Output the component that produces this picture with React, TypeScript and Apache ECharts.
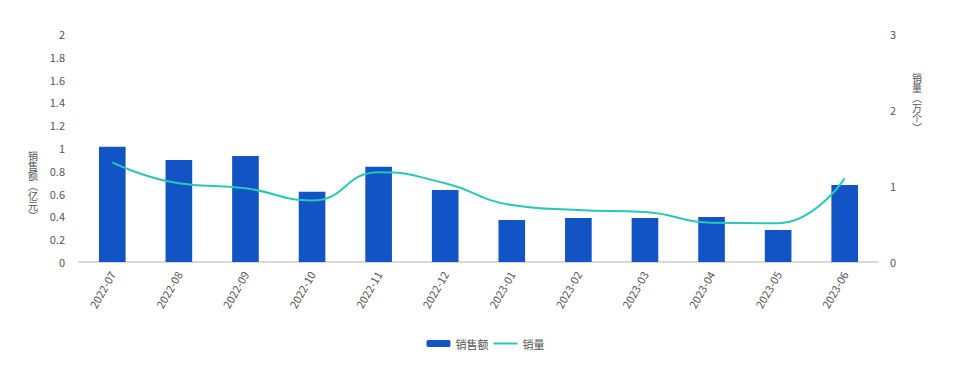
import React, { useEffect, useRef } from "react";
import * as echarts from "echarts";

const categories = ["2022-07", "2022-08", "2022-09", "2022-10", "2022-11", "2022-12", "2023-01", "2023-02", "2023-03", "2023-04", "2023-05", "2023-06"];
const salesAmount = [1.01, 0.895, 0.93, 0.617, 0.836, 0.632, 0.368, 0.386, 0.386, 0.395, 0.281, 0.675];
const salesVolume = [1.31, 1.035, 0.97, 0.81, 1.18, 1.035, 0.75, 0.684, 0.658, 0.517, 0.51, 1.1];
const leftName = "销\n售\n额\n︵\n亿\n元\n︶";
const rightName = "销\n量\n︵\n万\n个\n︶";

export default function App() {
  const ref = useRef<HTMLDivElement>(null);
  useEffect(() => {
    document.body.style.margin = "0";
    const chart = echarts.init(ref.current!, null, { renderer: "svg" });
    const font = "'Noto Sans CJK SC', sans-serif";
    const nameStyle = { fill: "#555", fontSize: 10, lineHeight: 10, fontFamily: font, align: "center", verticalAlign: "top" };
    chart.setOption({
      animation: false,
      textStyle: { fontFamily: font },
      legend: {
        data: ["销售额", { name: "销量", itemStyle: { opacity: 0 } }],
        bottom: 16,
        left: "center",
        itemWidth: 24,
        itemHeight: 7,
        itemGap: 4,
        textStyle: { color: "#555", fontSize: 11, fontFamily: font },
      },
      graphic: [
        { type: "text", x: 33, y: 150, style: { ...nameStyle, text: leftName } },
        { type: "text", x: 917, y: 72, style: { ...nameStyle, text: rightName } },
      ],
      grid: { left: 79, right: 93, top: 34, bottom: 108 },
      xAxis: {
        type: "category",
        data: categories,
        axisLine: { show: true, lineStyle: { color: "#d9d9d9", width: 2 } },
        axisTick: { show: false },
        axisLabel: { rotate: 60, interval: 0, color: "#555", fontSize: 11, margin: 10 },
      },
      yAxis: [
        {
          type: "value",
          min: 0,
          max: 2,
          interval: 0.2,
          position: "left",
          axisLine: { show: false },
          axisTick: { show: false },
          splitLine: { show: false },
          axisLabel: { color: "#555", fontSize: 11, margin: 14 },
        },
        {
          type: "value",
          min: 0,
          max: 3,
          interval: 1,
          position: "right",
          axisLine: { show: false },
          axisTick: { show: false },
          splitLine: { show: false },
          axisLabel: { color: "#555", fontSize: 11, margin: 12 },
        },
      ],
      series: [
        {
          name: "销售额",
          type: "bar",
          data: salesAmount,
          yAxisIndex: 0,
          barWidth: "40%",
          itemStyle: { color: "#1253c6" },
        },
        {
          name: "销量",
          type: "line",
          data: salesVolume,
          yAxisIndex: 1,
          smooth: true,
          symbol: "none",
          lineStyle: { color: "#26c9b5", width: 2 },
          itemStyle: { color: "#26c9b5" },
        },
      ],
    });
    return () => chart.dispose();
  }, []);
  return <div ref={ref} style={{ width: 971, height: 370 }} />;
}
